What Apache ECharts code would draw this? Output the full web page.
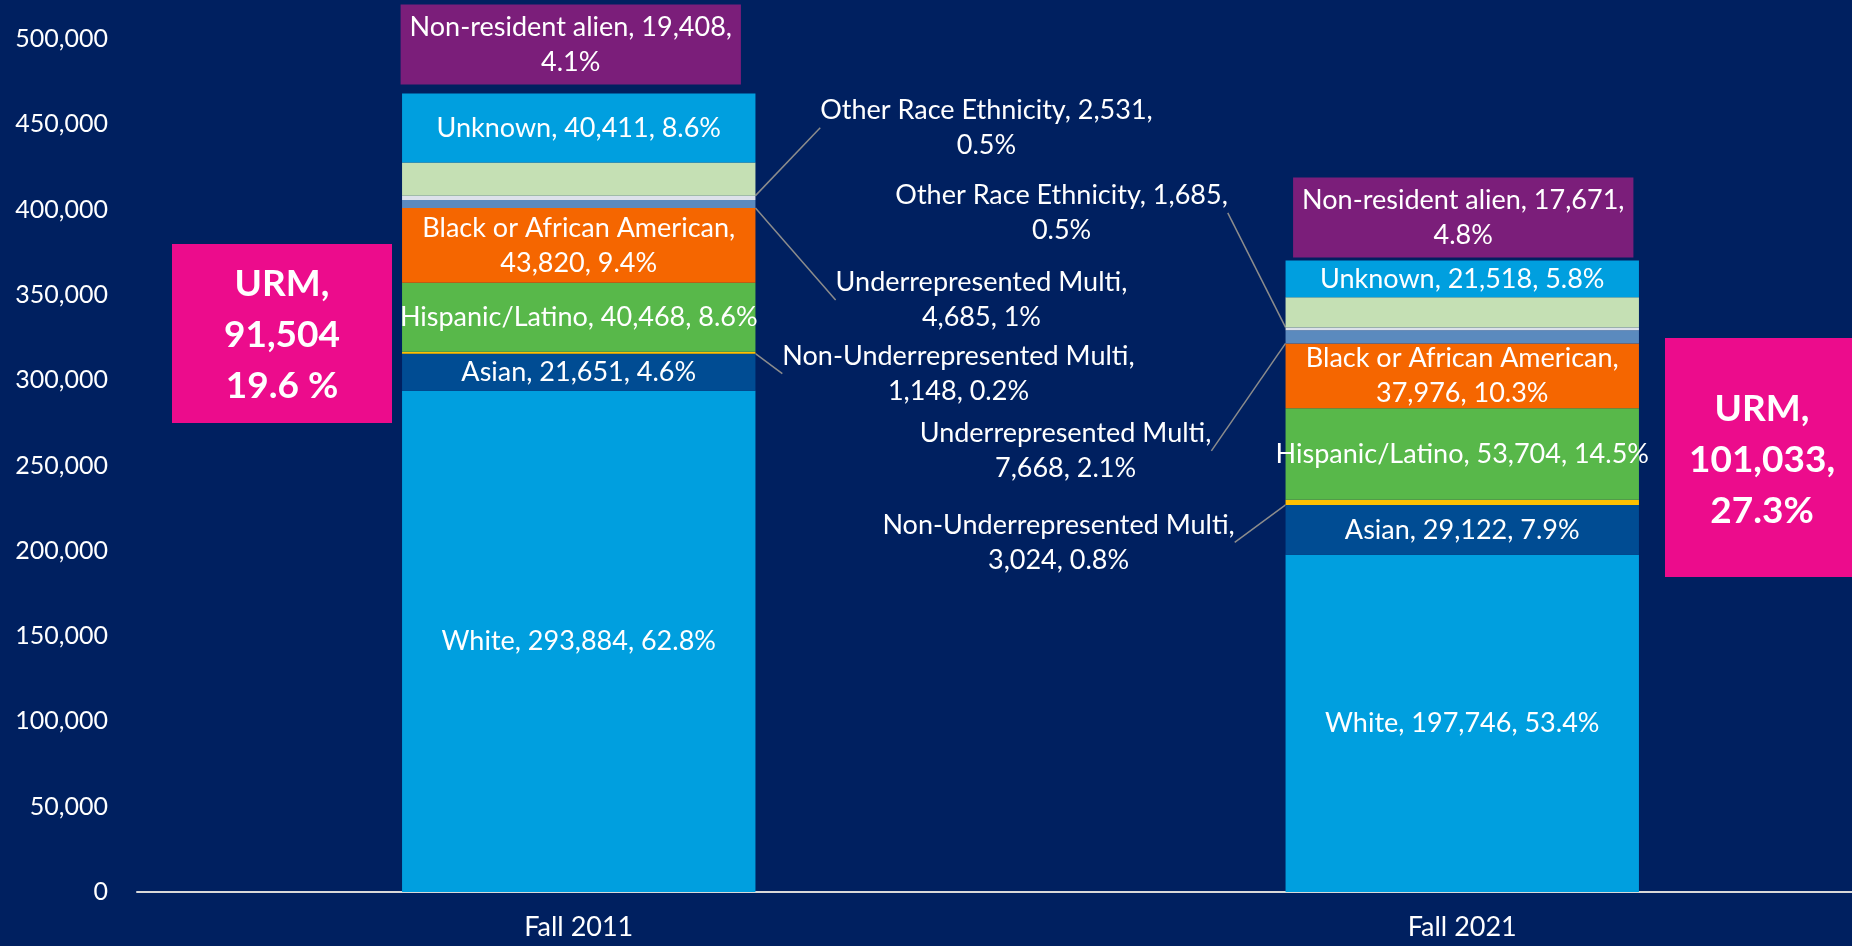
<!DOCTYPE html>
<html>
<head>
<meta charset="utf-8">
<title>Enrollment by race / ethnicity, Fall 2011 vs Fall 2021</title>
<script src="https://cdn.jsdelivr.net/npm/echarts@6/dist/echarts.min.js"></script>
<style>
  html, body { margin: 0; padding: 0; background: #002060; }
  #main { width: 1852px; height: 946px; }
</style>
</head>
<body>
<div id="main"></div>
<script>
// categories
var terms = ["Fall 2011", "Fall 2021"];

// stacked from the bottom of the bar upwards
var white = [293884, 197746];
var asian = [21651, 29122];
var nonUrmMulti = [1148, 3024];
var hispanic = [40468, 53704];
var black = [43820, 37976];
var urmMulti = [4685, 7668];
var otherRace = [2531, 1685];
var nonResident = [19408, 17671];
var unknown = [40411, 21518];

// value axis
var yMax = 500000;
var yStep = 50000;

// URM call-out boxes (text as printed)
var urmText = ["URM,\n91,504\n19.6 %", "URM,\n101,033,\n27.3%"];

var FONT = "Lato";

var layers = [
  { name: "White", values: white, color: "#009FDF", brk: "none" },
  { name: "Asian", values: asian, color: "#004C93", brk: "none" },
  { name: "Non-Underrepresented Multi", values: nonUrmMulti, color: "#FFC000", brk: "name", callout: true },
  { name: "Hispanic/Latino", values: hispanic, color: "#58B84A", brk: "none" },
  { name: "Black or African American", values: black, color: "#F56600", brk: "name" },
  { name: "Underrepresented Multi", values: urmMulti, color: "#5B8ABE", brk: "name", callout: true },
  { name: "Other Race Ethnicity", values: otherRace, color: "#DCE1EA", brk: "pct", callout: true },
  { name: "Non-resident alien", values: nonResident, color: "#C5E0B4", brk: "pct", box: true },
  { name: "Unknown", values: unknown, color: "#009FDF", brk: "none" }
];

var totals = terms.map(function (t, i) {
  var s = 0;
  layers.forEach(function (l) { s += l.values[i]; });
  return s;
});

function pctText(v, i) {
  var p = Math.round(v / totals[i] * 1000) / 10;
  return (p % 1 === 0 ? p.toFixed(0) : p.toFixed(1)) + "%";
}

function labelText(layer, i) {
  var v = layer.values[i].toLocaleString("en-US");
  var p = pctText(layer.values[i], i);
  if (layer.brk === "name") return layer.name + ",\n" + v + ", " + p;
  if (layer.brk === "pct") return layer.name + ", " + v + ",\n" + p;
  return layer.name + ", " + v + ", " + p;
}

// label centre offset from the bar edge, [Fall 2011 (right side), Fall 2021 (left side)]
var calloutOffset = {
  "Other Race Ethnicity": [[231, -70], [-224, -116]],
  "Underrepresented Multi": [[226, 96], [-220, 114]],
  "Non-Underrepresented Multi": [[203, 21], [-227, 40]]
};
var boxGap = [9, 3];
var boxShift = [-8, 1];

function calloutLayout(layer) {
  return function (p) {
    var off = calloutOffset[layer.name][p.dataIndex];
    var r = p.rect;
    var right = p.dataIndex === 0;
    var ax = right ? r.x + r.width : r.x;
    var ay = r.y + r.height / 2;
    var cx = ax + off[0];
    var cy = ay + off[1];
    var w = p.labelRect.width;
    var edge = right ? cx - w / 2 - 8 : cx + w / 2 + 8;
    var elbow = right ? edge - 12 : edge + 12;
    return {
      x: cx, y: cy, align: "center", verticalAlign: "middle",
      labelLinePoints: [[ax, ay], [elbow, cy], [edge, cy]]
    };
  };
}

function boxLayout(p) {
  var i = p.dataIndex;
  var r = p.rect;
  // the box sits on top of the whole stack (Unknown is the only layer above)
  var top = r.y - r.height * unknown[i] / nonResident[i];
  return {
    x: r.x + r.width / 2 + boxShift[i],
    y: top - boxGap[i],
    align: "center",
    verticalAlign: "bottom"
  };
}

var series = layers.map(function (layer) {
  var s = {
    name: layer.name,
    type: "bar",
    stack: "all",
    barWidth: "40%",
    data: layer.values,
    itemStyle: { color: layer.color },
    label: {
      show: true,
      position: "inside",
      color: "#FFFFFF",
      fontFamily: FONT,
      fontSize: 27,
      lineHeight: 35,
      align: "center",
      formatter: function (p) { return labelText(layer, p.dataIndex); }
    },
    emphasis: { disabled: true }
  };
  if (layer.callout) {
    s.labelLine = { show: true, lineStyle: { color: "#8C8C8C", width: 1.5 } };
    s.labelLayout = calloutLayout(layer);
  }
  if (layer.box) {
    s.label.backgroundColor = "#7B1E7A";
    s.label.padding = [5, 9, 5, 9];
    s.labelLayout = boxLayout;
  }
  return s;
});

var chart = echarts.init(document.getElementById("main"));

var option = {
  backgroundColor: "#002060",
  animation: false,
  textStyle: { fontFamily: FONT },
  // plot area runs past the right edge of the page, as in the original slide
  grid: { left: 137, right: -52, top: 39, bottom: 54, outerBoundsMode: "none" },
  xAxis: {
    type: "category",
    data: terms,
    axisLine: { show: true, lineStyle: { color: "#D9D9D9", width: 2 } },
    axisTick: { show: false },
    axisLabel: { color: "#FFFFFF", fontSize: 27, fontFamily: FONT, margin: 22 }
  },
  yAxis: {
    type: "value",
    min: 0,
    max: yMax,
    interval: yStep,
    axisLine: { show: false },
    axisTick: { show: false },
    splitLine: { show: false },
    axisLabel: {
      color: "#FFFFFF", fontSize: 25, fontFamily: FONT, margin: 29,
      formatter: function (v) { return v.toLocaleString("en-US"); }
    }
  },
  graphic: [
    { type: "rect", left: 172, top: 244, shape: { width: 220, height: 179 }, style: { fill: "#EC0C8C" }, z: 10 },
    { type: "text", x: 282, y: 335, z: 11,
      style: { text: urmText[0], fill: "#FFFFFF", font: "bold 37px " + FONT,
               align: "center", verticalAlign: "middle", textAlign: "center", textVerticalAlign: "middle", lineHeight: 51 } },
    { type: "rect", left: 1665, top: 338, shape: { width: 200, height: 239 }, style: { fill: "#EC0C8C" }, z: 10 },
    { type: "text", x: 1762, y: 460, z: 11,
      style: { text: urmText[1], fill: "#FFFFFF", font: "bold 37px " + FONT,
               align: "center", verticalAlign: "middle", textAlign: "center", textVerticalAlign: "middle", lineHeight: 51 } }
  ],
  series: series
};

chart.setOption(option);
// second pass so the label guide lines exist and take the custom elbow points
chart.setOption(option);
</script>
</body>
</html>
